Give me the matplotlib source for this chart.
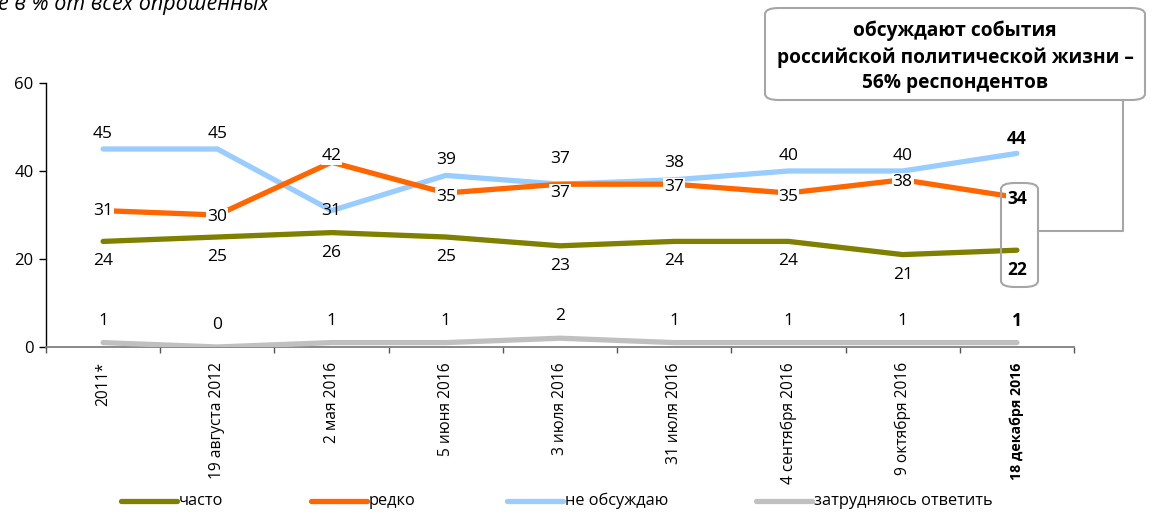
import matplotlib.pyplot as plt
from matplotlib.patches import FancyBboxPatch
from matplotlib.lines import Line2D

plt.rcParams['font.family'] = ['Open Sans', 'DejaVu Sans']

# survey dates and answer shares, %
dates = ["2011*", "19 августа 2012", "2 мая 2016", "5 июня 2016", "3 июля 2016",
         "31 июля 2016", "4 сентября 2016", "9 октября 2016", "18 декабря 2016"]
often = [24, 25, 26, 25, 23, 24, 24, 21, 22]
rarely = [31, 30, 42, 35, 37, 37, 35, 38, 34]
never = [45, 45, 31, 39, 37, 38, 40, 40, 44]
dont_know = [1, 0, 1, 1, 2, 1, 1, 1, 1]

series_names = ["часто", "редко", "не обсуждаю", "затрудняюсь ответить"]
colors = ["#7f7f00", "#ff6600", "#99ccff", "#c0c0c0"]

W, H = 1155, 520
fig = plt.figure(figsize=(W / 100, H / 100), dpi=100)
ax = fig.add_axes([46 / W, 1 - 347 / H, (1074 - 46) / W, (347 - 83) / H])

x = list(range(len(dates)))
last = len(dates) - 1

for vals, c in zip([dont_know, often, never, rarely], [colors[3], colors[0], colors[2], colors[1]]):
    ax.plot(x, vals, color=c, lw=3.8, solid_capstyle='round', zorder=3)


# value labels, shifted in pixels from the point
def put_labels(vals, offsets, bg=False):
    for i, v in enumerate(vals):
        kw = dict(fontsize=12.5, ha='center', va='center', zorder=5,
                  fontweight='bold' if i == last else 'normal')
        if bg:
            kw['bbox'] = dict(boxstyle='square,pad=0.05', fc='white', ec='none')
        ax.annotate(str(v), (i, v), xytext=(0, offsets[i]), textcoords='offset pixels', **kw)


put_labels(often, [-20] * 9)
put_labels(rarely, [0, -2, 6, -4, -9, -3, -4, -2, -2], bg=True)
put_labels(never, [15, 15, 0, 15, 25, 17, 15, 15, 14])
put_labels(dont_know, [22] * 9)

ax.set_xlim(-0.5, last + 0.5)
ax.set_ylim(0, 60)
ax.set_yticks([0, 20, 40, 60])
ax.tick_params(axis='y', labelsize=12, length=5, width=1, direction='out', pad=4)
ax.set_xticks([i + 0.5 for i in range(-1, last + 1)])
ax.set_xticklabels([])
ax.set_xticks(x, minor=True)
ax.set_xticklabels(dates, minor=True, rotation=90, fontsize=11.2, va='top')
ax.tick_params(axis='x', which='major', length=4, width=1, direction='out', color='#555555')
ax.tick_params(axis='x', which='minor', length=0, pad=11)
latest = ax.get_xticklabels(minor=True)[last]
latest.set_fontweight('bold')
latest.set_fontsize(10.2)

for s in ['top', 'right']:
    ax.spines[s].set_visible(False)
ax.spines['bottom'].set_color('#808080')
ax.spines['bottom'].set_linewidth(1.3)
ax.spines['left'].set_linewidth(1)

# legend along the bottom
leg_x = [121, 311, 507, 756]
leg_y = 1 - 501 / H
for lx, c, name in zip(leg_x, colors, series_names):
    fig.lines.append(Line2D([lx / W, (lx + 56) / W], [leg_y, leg_y], transform=fig.transFigure,
                            color=c, lw=3.8, solid_capstyle='round', figure=fig))
    fig.text((lx + 58) / W, leg_y, name, fontsize=11.8, ha='left', va='center')

# callout box for the last survey
gray = '#a6a6a6'
fig.patches.append(FancyBboxPatch((765 / W, 1 - 100 / H), (1145 - 765) / W, 92 / H,
                                  boxstyle='round,pad=0,rounding_size=0.012', transform=fig.transFigure,
                                  fc='white', ec=gray, lw=1.5, figure=fig))
fig.text(955 / W, 1 - 57 / H, "обсуждают события\nроссийской политической жизни –\n56% респондентов",
         ha='center', va='center', fontsize=13.8, fontweight='bold', linespacing=1.38)
fig.patches.append(FancyBboxPatch((1001 / W, 1 - 287 / H), 37 / W, 104 / H,
                                  boxstyle='round,pad=0,rounding_size=0.012', transform=fig.transFigure,
                                  fc='none', ec=gray, lw=1.5, figure=fig))
fig.lines.append(Line2D([1123 / W, 1123 / W, 1038 / W],
                        [1 - 100 / H, 1 - 231 / H, 1 - 231 / H],
                        transform=fig.transFigure, color=gray, lw=1.5, figure=fig))

fig.text(-2 / W, 1 - 10 / H, "е в % от всех опрошенных", fontsize=15.5, style='italic',
         ha='left', va='baseline')

fig.savefig("out.png", dpi=100)
